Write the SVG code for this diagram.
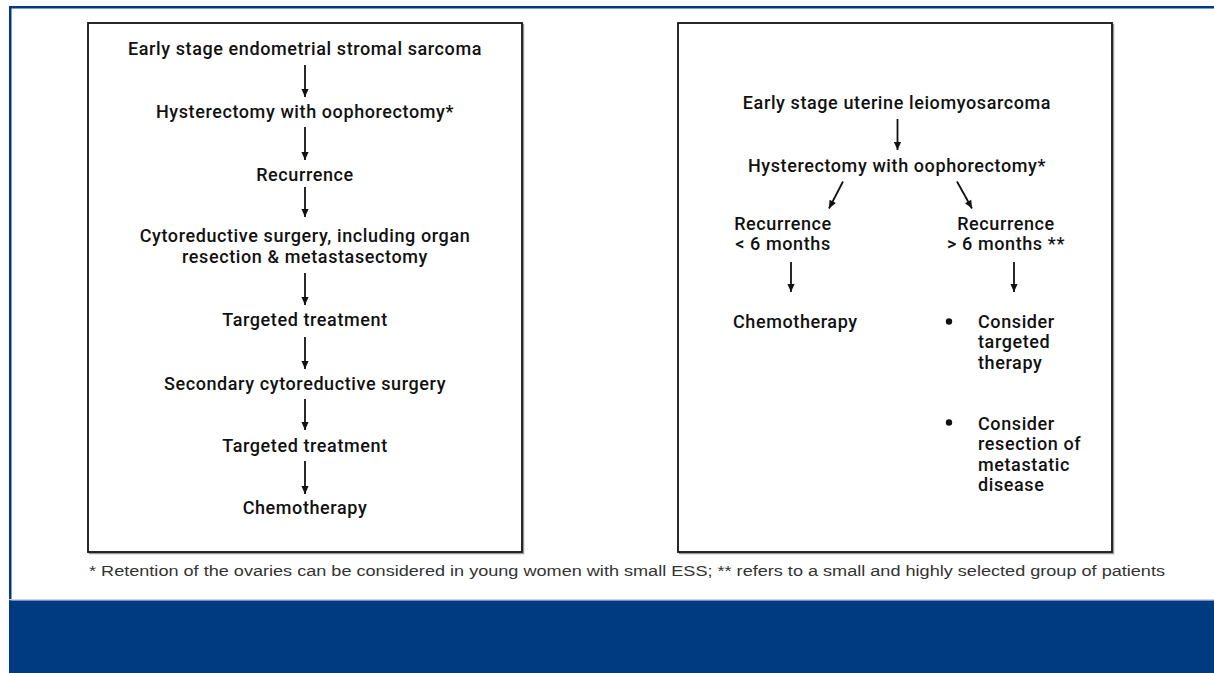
<svg xmlns="http://www.w3.org/2000/svg" width="1214" height="673" viewBox="0 0 1214 673">
<style>
  .t { font-family: Roboto, "Liberation Sans", Arial, sans-serif; font-weight: 500; font-size: 18px; letter-spacing: 0.6px; fill: #111; }
  .c { text-anchor: middle; }
  .box { fill: #fff; stroke: #111; stroke-width: 1.8; }
  .shadow { fill: none; stroke: #999; stroke-width: 1.5; }
  .arr { stroke: #111; stroke-width: 1.8; fill: none; marker-end: url(#ah); }
  .foot { font-family: "Liberation Sans", Arial, sans-serif; font-size: 15.5px; fill: #333; }
</style>
<defs>
  <marker id="ah" viewBox="0 0 10 10" refX="10" refY="5" markerWidth="9" markerHeight="8" markerUnits="userSpaceOnUse" orient="auto">
    <path d="M0,0.5 L10,5 L0,9.5 z" fill="#111"/>
  </marker>
</defs>
<rect x="0" y="0" width="1214" height="673" fill="#fff"/>
<g id="frame">
  <rect x="9" y="6" width="1205" height="2.5" fill="#003a80"/>
  <rect x="9" y="6" width="2.5" height="596" fill="#003a80"/>
  <rect x="9" y="599" width="1205" height="1.5" fill="#c9d3e3"/>
  <rect x="9" y="600.5" width="1205" height="72.5" fill="#003a80"/>
</g>
<g id="box-left">
  <rect class="shadow" x="89.5" y="24.5" width="434" height="529"/>
  <rect class="box" x="88" y="23" width="434" height="529"/>
</g>
<g id="box-right">
  <rect class="shadow" x="679.5" y="24.5" width="434" height="529"/>
  <rect class="box" x="678" y="23" width="434" height="529"/>
</g>
<g id="ess-start"><text class="t c" x="305" y="55">Early stage endometrial stromal sarcoma</text></g>
<g id="ess-hyst"><text class="t c" x="305" y="118">Hysterectomy with oophorectomy*</text></g>
<g id="ess-recur"><text class="t c" x="305" y="181">Recurrence</text></g>
<g id="ess-cyto">
  <text class="t c" x="305" y="242">Cytoreductive surgery, including organ</text>
  <text class="t c" x="305" y="263">resection &amp; metastasectomy</text>
</g>
<g id="ess-target1"><text class="t c" x="305" y="326">Targeted treatment</text></g>
<g id="ess-secondary"><text class="t c" x="305" y="390">Secondary cytoreductive surgery</text></g>
<g id="ess-target2"><text class="t c" x="305" y="452">Targeted treatment</text></g>
<g id="ess-chemo"><text class="t c" x="305" y="514">Chemotherapy</text></g>

<g id="lms-start"><text class="t c" x="897" y="108.5">Early stage uterine leiomyosarcoma</text></g>
<g id="lms-hyst"><text class="t c" x="897" y="171.5">Hysterectomy with oophorectomy*</text></g>
<g id="lms-recur-early">
  <text class="t c" x="783" y="229.5">Recurrence</text>
  <text class="t c" x="783" y="250">&lt; 6 months</text>
</g>
<g id="lms-recur-late">
  <text class="t c" x="1006" y="229.5">Recurrence</text>
  <text class="t c" x="1006" y="250">&gt; 6 months **</text>
</g>
<g id="lms-chemo"><text class="t" x="733" y="327.5">Chemotherapy</text></g>
<g id="lms-targeted">
  <circle cx="949" cy="321.5" r="3.2" fill="#111"/>
  <text class="t" x="978" y="327.5">Consider</text>
  <text class="t" x="978" y="348">targeted</text>
  <text class="t" x="978" y="368.5">therapy</text>
</g>
<g id="lms-resection">
  <circle cx="949" cy="422.5" r="3.2" fill="#111"/>
  <text class="t" x="978" y="429.5">Consider</text>
  <text class="t" x="978" y="450">resection of</text>
  <text class="t" x="978" y="470.5">metastatic</text>
  <text class="t" x="978" y="491">disease</text>
</g>

<g id="connectors">
  <line class="arr" x1="305" y1="65" x2="305" y2="97"/>
  <line class="arr" x1="305" y1="127" x2="305" y2="160"/>
  <line class="arr" x1="305" y1="187" x2="305" y2="217"/>
  <line class="arr" x1="305" y1="273" x2="305" y2="305"/>
  <line class="arr" x1="305" y1="337" x2="305" y2="369"/>
  <line class="arr" x1="305" y1="399" x2="305" y2="430"/>
  <line class="arr" x1="305" y1="461" x2="305" y2="494"/>
  <line class="arr" x1="897.5" y1="119" x2="897.5" y2="150"/>
  <line class="arr" x1="843" y1="181.5" x2="829" y2="208.5"/>
  <line class="arr" x1="957" y1="181.5" x2="972" y2="208.5"/>
  <line class="arr" x1="791" y1="262" x2="791" y2="292"/>
  <line class="arr" x1="1014" y1="262" x2="1014" y2="292"/>
</g>

<g id="footnote"><text class="foot" x="89" y="576" textLength="1076" lengthAdjust="spacingAndGlyphs">* Retention of the ovaries can be considered in young women with small ESS; ** refers to a small and highly selected group of patients</text></g>
</svg>
